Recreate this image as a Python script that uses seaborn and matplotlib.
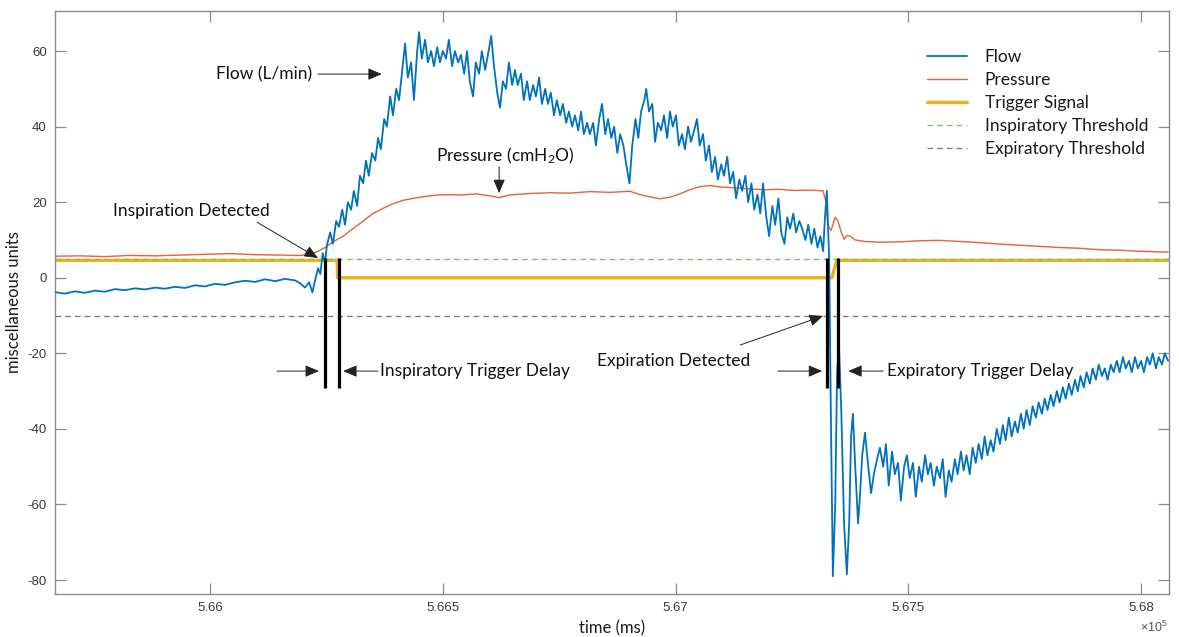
import matplotlib
matplotlib.use("Agg")
import matplotlib.pyplot as plt
import seaborn as sns
import pandas as pd

# ---------------- data ----------------
flow_t = [565667, 565688, 565710, 565731, 565753, 565774, 565796, 565817, 565839, 565860,
          565882, 565903, 565925, 565946, 565968, 565989, 566011, 566032, 566054, 566075,
          566097, 566118, 566140, 566161, 566183, 566194, 566204, 566213, 566220, 566226,
          566232, 566237, 566242, 566247,
          566251, 566258, 566264, 566271, 566277, 566284, 566290, 566296, 566303, 566309,
          566316, 566322, 566329, 566335, 566341, 566348, 566355, 566361, 566367, 566374,
          566380, 566387, 566393, 566400, 566406, 566413, 566419, 566425, 566432, 566438,
          566445, 566449, 566455, 566462, 566468, 566475, 566481, 566488, 566494, 566500,
          566507, 566513, 566520, 566526, 566533, 566539, 566546, 566552, 566558, 566565,
          566571, 566578, 566584, 566591, 566597, 566604, 566610, 566617, 566623, 566629,
          566636, 566642, 566649, 566655, 566661, 566668, 566674, 566681, 566687, 566694,
          566700, 566707, 566713, 566720, 566726, 566732, 566739, 566745, 566752, 566758,
          566765, 566771, 566778, 566784, 566791, 566797, 566803, 566810, 566816, 566823,
          566829, 566836, 566842, 566849, 566855, 566862, 566868, 566875, 566881, 566888,
          566894, 566901, 566907, 566914, 566920, 566926, 566933, 566937, 566943, 566950,
          566956, 566962, 566969, 566975, 566982, 566988, 566994, 567001, 567007, 567014,
          567020, 567027, 567033, 567040, 567046, 567052, 567059, 567065, 567072, 567078,
          567085, 567091, 567098, 567104, 567111, 567117, 567124, 567130, 567137, 567143,
          567150, 567156, 567163, 567169, 567176, 567182, 567188, 567195, 567201, 567208,
          567214, 567221, 567227, 567234, 567240, 567246, 567253, 567259, 567266, 567272,
          567279, 567285, 567292, 567298, 567305, 567311, 567317, 567321, 567325, 567330,
          567334, 567338, 567343, 567347, 567351, 567356, 567362, 567368, 567373, 567377,
          567381, 567386, 567392, 567396, 567401, 567407, 567414, 567420, 567426, 567433,
          567439, 567446, 567452, 567458, 567465, 567471, 567478, 567484, 567491, 567497,
          567503, 567510, 567516, 567523, 567529, 567536, 567542, 567548, 567555, 567561,
          567568, 567574, 567580, 567587, 567593, 567600, 567606, 567613, 567619, 567625,
          567632, 567638, 567645, 567651, 567658, 567664, 567670, 567677, 567683, 567690,
          567697, 567703, 567709, 567716, 567722, 567729, 567735, 567742, 567748, 567754,
          567761, 567767, 567774, 567780, 567787, 567793, 567799, 567806, 567812, 567819,
          567825, 567832, 567838, 567845, 567851, 567858, 567864, 567870, 567877, 567883,
          567890, 567896, 567903, 567909, 567916, 567922, 567928, 567935, 567941, 567948,
          567954, 567961, 567967, 567974, 567980, 567987, 567993, 568000, 568006, 568013,
          568019, 568025, 568032, 568038, 568045, 568051, 568058]
flow_v = [-3.8, -4.2, -3.6, -4.0, -3.4, -3.7, -3.0, -3.3, -2.8, -3.1,
          -2.6, -2.9, -2.4, -2.7, -2.0, -2.3, -1.6, -1.9, -1.2, -0.8,
          -1.1, -0.4, -0.9, -0.3, -0.7, -1.5, -2.6, -1.2, -3.9, -0.5,
          2.5, 1.0, 6.5, 4.0,
          8.5, 12, 9, 15, 13.5, 18, 14, 20, 18, 23,
          19, 27, 25, 31, 27, 33, 31, 37, 34, 42,
          40, 48, 43, 50, 47, 55, 62, 53, 57, 47,
          60, 65, 58, 63, 57, 60, 56, 61, 57, 60,
          58, 63, 56, 60, 57, 59, 54, 60, 52, 48,
          57, 54, 60, 55, 59, 64, 56, 49, 45, 52,
          50, 57, 51, 55, 51, 54, 47, 52, 47, 51,
          48, 53, 46, 50, 46, 49, 43, 47, 43, 46,
          41, 44, 40, 43, 39, 44, 38, 41, 38, 41,
          35, 42, 46, 38, 42, 37, 40, 33, 38, 35,
          30, 25, 35, 42, 37, 44, 47, 50, 44, 46,
          36, 41, 39, 43, 37, 44, 40, 43, 35, 38,
          34, 40, 36, 39, 42, 35, 38, 31, 35, 28,
          32, 26, 30, 27, 32, 25, 28, 21, 26, 23,
          27, 20, 25, 18, 22, 17, 25, 16, 11, 19,
          14, 21, 12, 9, 16, 13, 17, 12, 15, 13,
          10, 14, 9, 13, 8, 11, 7, 16, 23, 5,
          -40, -79, -60, -25, -18, -35, -65, -78.5, -65, -42,
          -36, -50, -65, -58, -47, -41, -50, -57, -52, -48,
          -45, -50, -44, -55, -46, -52, -49, -59, -50, -47,
          -53, -49, -58, -50, -54, -47, -52, -49, -55, -50,
          -53, -48, -58, -51, -54, -48, -52, -46, -51, -47,
          -52, -45, -49, -44, -48, -42, -47, -43, -46, -40,
          -44, -39, -43, -37, -42, -38, -41, -36, -40, -35,
          -39, -34, -37, -33, -36, -32, -35, -31, -34, -30,
          -33, -29, -32, -28, -31, -27, -30, -26, -29, -25,
          -28, -24, -27, -23, -26, -24, -27, -23, -25, -22,
          -25, -21, -24, -22, -25, -21, -24, -22, -25, -21,
          -23, -20, -24, -21, -23, -20, -22]

pres_t = [565667, 565721, 565774, 565828, 565882, 565935, 565989, 566043, 566097, 566150,
          566193, 566215, 566232, 566247, 566264, 566286, 566307, 566329, 566350, 566372,
          566393, 566415, 566436, 566462, 566488, 566515, 566543, 566571, 566601, 566620,
          566644, 566687, 566730, 566773, 566816, 566859, 566902, 566923, 566945, 566966,
          566988, 567009, 567031, 567052, 567074, 567096, 567128, 567160, 567192, 567224,
          567256, 567289, 567317, 567323, 567327, 567334, 567343, 567349, 567356, 567362,
          567368, 567375, 567386, 567407, 567439, 567482, 567525, 567568, 567611, 567654,
          567697, 567740, 567783, 567826, 567869, 567912, 567955, 567998, 568058]
pres_v = [5.7, 5.8, 5.6, 5.9, 5.8, 6.0, 6.2, 6.4, 6.1, 6.0,
          5.9, 6.2, 7.0, 8.0, 9.5, 11.0, 13.0, 15.0, 17.0, 18.4,
          19.6, 20.5, 21.0, 21.5, 21.9, 22.0, 21.9, 22.2, 21.7, 21.2,
          21.9, 22.3, 22.5, 22.4, 22.8, 22.6, 22.9, 22.0, 21.4, 20.9,
          21.3, 22.2, 23.3, 24.1, 24.4, 24.0, 23.8, 23.5, 23.3, 23.4,
          23.1, 23.2, 23.0, 20.0, 14.0, 12.5, 16.0, 15.0, 12.0, 10.2,
          11.2, 11.0, 10.0, 9.6, 9.4, 9.5, 9.8, 9.9, 9.6, 9.3,
          8.9, 8.6, 8.3, 8.0, 7.8, 7.4, 7.3, 7.0, 6.8]

trig_t = [565667, 566273, 566274, 567336, 567346, 568060]
trig_v = [4.6, 4.6, 0.0, 0.0, 4.6, 4.6]

insp_threshold = 5.0
exp_threshold = -10.0

marker_times = [566247, 566277, 567325, 567349]
marker_low, marker_high = -29.2, 5.2

x_ticks = [566000, 566500, 567000, 567500, 568000]
x_tick_labels = ["5.66", "5.665", "5.67", "5.675", "5.68"]
y_ticks = [-80, -60, -40, -20, 0, 20, 40, 60]

series_names = ["Flow", "Pressure", "Trigger Signal",
                "Inspiratory Threshold", "Expiratory Threshold"]

# ---------------- styling ----------------
sns.set_theme(style="white")
plt.rcParams["font.family"] = ["Lato", "DejaVu Sans"]
plt.rcParams["mathtext.default"] = "regular"

C_FLOW = "#0072BD"
C_PRES = "#E8603C"
C_TRIG = "#EDB120"
C_INSP = "#7CC36A"
C_EXP = "#7F7F7F"
C_AX = "#8a8a8a"
C_TICKTXT = "#3a3a3a"

fig = plt.figure(figsize=(11.79, 6.37), dpi=100)
ax = fig.add_axes([55 / 1179, 1 - 594 / 637, (1169 - 55) / 1179, (594 - 11) / 637])

flow_df = pd.DataFrame({"t": flow_t, "v": flow_v})
pres_df = pd.DataFrame({"t": pres_t, "v": pres_v})
trig_df = pd.DataFrame({"t": trig_t, "v": trig_v})

sns.lineplot(data=flow_df, x="t", y="v", ax=ax, color=C_FLOW, lw=1.3,
             estimator=None, sort=False, label=series_names[0], zorder=3)
sns.lineplot(data=pres_df, x="t", y="v", ax=ax, color=C_PRES, lw=1.0,
             estimator=None, sort=False, label=series_names[1], zorder=2)
sns.lineplot(data=trig_df, x="t", y="v", ax=ax, color=C_TRIG, lw=2.4,
             estimator=None, sort=False, label=series_names[2], zorder=2)
ax.axhline(insp_threshold, color=C_INSP, lw=1.0, ls=(0, (4, 3)),
           label=series_names[3], zorder=2.5)
ax.axhline(exp_threshold, color=C_EXP, lw=1.0, ls=(0, (4, 3)),
           label=series_names[4], zorder=2.5)

ax.vlines(marker_times, marker_low, marker_high, colors="black", lw=2.3, zorder=4)

ax.set_xlim(565667, 568060)
ax.set_ylim(-83.7, 70.6)
ax.set_xticks(x_ticks, x_tick_labels)
ax.set_yticks(y_ticks, [str(v) for v in y_ticks])

for s in ax.spines.values():
    s.set_color(C_AX)
    s.set_linewidth(1.0)
ax.tick_params(axis="both", direction="in", length=8, width=0.9, color=C_AX,
               top=True, right=True, bottom=True, left=True,
               labelsize=9.5, labelcolor=C_TICKTXT, pad=6)
for lab in ax.get_xticklabels() + ax.get_yticklabels():
    lab.set_family(["Liberation Sans", "DejaVu Sans"])

ax.set_xlabel("time (ms)", fontsize=12, color="#1a1a1a", labelpad=4)
ax.set_ylabel("miscellaneous units", fontsize=12, color="#1a1a1a", labelpad=4)
ax.text(0.999, -0.058, r"$\times$10$^5$", transform=ax.transAxes, ha="right",
        va="center", fontsize=9, color="#555555",
        family=["Liberation Sans", "DejaVu Sans"])

leg = ax.legend(loc="upper left", bbox_to_anchor=(0.783, 0.935), frameon=False,
                fontsize=12.5, handlelength=2.3, handletextpad=1.0,
                labelspacing=0.4, borderpad=0, borderaxespad=0)
for t in leg.get_texts():
    t.set_color("#1a1a1a")

# ---------------- annotations ----------------
akw = dict(arrowstyle="-|>,head_length=0.7,head_width=0.3", color="#222222",
           lw=0.7, mutation_scale=12, shrinkA=0, shrinkB=0)
tkw = dict(fontsize=12.5, color="#111111")

ax.annotate("", xy=(566369, 53.9), xytext=(566232, 53.9), arrowprops=akw)
ax.text(566116, 53.9, "Flow (L/min)", ha="center", va="center", **tkw)

ax.annotate("", xy=(566621, 22.4), xytext=(566621, 29.4), arrowprops=akw)
ax.text(566634, 32.2, "Pressure (cmH$_2$O)", ha="center", va="center", **tkw)

ax.annotate("", xy=(566232, 5.2), xytext=(566101, 14.7), arrowprops=akw)
ax.text(565961, 17.6, "Inspiration Detected", ha="center", va="center", **tkw)

ax.annotate("", xy=(566234, -24.7), xytext=(566144, -24.7), arrowprops=akw)
ax.annotate("", xy=(566286, -24.7), xytext=(566361, -24.7), arrowprops=akw)
ax.text(566365, -24.7, "Inspiratory Trigger Delay", ha="left", va="center", **tkw)

ax.annotate("", xy=(567317, -10.1), xytext=(567139, -17.8), arrowprops=akw)
ax.text(566995, -22.0, "Expiration Detected", ha="center", va="center", **tkw)

ax.annotate("", xy=(567315, -24.7), xytext=(567220, -24.7), arrowprops=akw)
ax.annotate("", xy=(567371, -24.7), xytext=(567446, -24.7), arrowprops=akw)
ax.text(567455, -24.7, "Expiratory Trigger Delay", ha="left", va="center", **tkw)

fig.savefig("out.png", dpi=100)
